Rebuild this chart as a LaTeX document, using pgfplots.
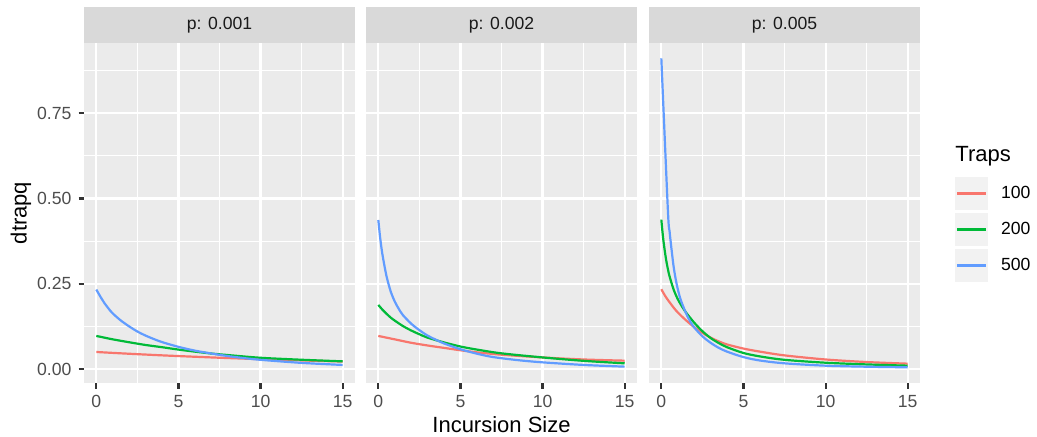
\documentclass[border=0pt]{standalone}
\usepackage{pgfplots}
\pgfplotsset{compat=1.18}
\usepackage{fontspec}
\setmainfont{Liberation Sans}
\definecolor{c100}{HTML}{F8766D}
\definecolor{c200}{HTML}{00BA38}
\definecolor{c500}{HTML}{619CFF}
\definecolor{grey92}{HTML}{EBEBEB}
\definecolor{grey85}{HTML}{D9D9D9}
\definecolor{grey95}{HTML}{F2F2F2}
\definecolor{grey30}{HTML}{4D4D4D}
\definecolor{grey20}{HTML}{333333}
\definecolor{grey10}{HTML}{1A1A1A}

\newcommand{\stripfont}{\fontsize{8.8}{10}\selectfont}
\pgfplotsset{
 facet/.style={
  scale only axis, width=135.5pt, height=170pt,
  anchor=south west,
  xmin=-0.75, xmax=15.75, ymin=-0.041, ymax=0.956,
  axis background/.style={fill=grey92},
  axis line style={draw=none},
  xtick={0,5,10,15}, xticklabels={0,5,10,15},
  minor xtick={2.5,7.5,12.5},
  ytick={0,0.25,0.5,0.75}, minor ytick={0.125,0.375,0.625,0.875},
  grid=both,
  major grid style={white, line width=1.07pt},
  minor grid style={white, line width=0.53pt},
  tick align=outside, xtick pos=bottom, ytick pos=left,
  major tick length=2.75pt, minor tick length=0pt,
  tick style={grey20, line width=1.07pt},
  ticklabel style={font=\fontsize{8.8}{10}\selectfont, text=grey30},
  every axis title/.style={at={(0.5,1)}, anchor=south, fill=grey85, minimum width=135.5pt,
     minimum height=18pt, inner sep=0pt, outer sep=0pt,
     font=\stripfont, text=grey10},
  every axis plot/.append style={line width=1.1pt, mark=none, smooth, tension=0.5},
 },
}

\begin{document}
\begin{tikzpicture}
\useasboundingbox (0pt,0pt) rectangle (518.5pt,218pt);

% Panel 1
\begin{axis}[facet, at={(42pt,26.5pt)}, title={p: 0.001},
  yticklabels={0.00,0.25,0.50,0.75},
  ylabel={dtrapq},
  every axis y label/.style={at={(axis description cs:-0.2325,0.5)}, rotate=90, anchor=center,
     font=\fontsize{11}{13}\selectfont, text=black}]
\addplot[c100] coordinates {(0,0.050)(1,0.0473)(2,0.0448)(3,0.0424)(4,0.0401)(5,0.038)(6,0.036)(7.5,0.0331)(10,0.0288)(12.5,0.0252)(15,0.0219)};
\addplot[c200] coordinates {(0,0.097)(0.5,0.092)(1,0.087)(2,0.0785)(3,0.0705)(4,0.064)(5,0.057)(6,0.051)(7,0.0455)(8,0.041)(10,0.033)(12.5,0.0272)(15,0.0225)};
\addplot[c500] coordinates {(0,0.233)(0.25,0.212)(0.5,0.193)(0.75,0.177)(1,0.163)(1.5,0.142)(2,0.125)(2.5,0.110)(3,0.098)(3.5,0.088)(4,0.079)(5,0.065)(6,0.054)(7,0.0455)(8,0.038)(9,0.032)(10,0.027)(12.5,0.018)(15,0.012)};
\end{axis}

% Panel 2
\begin{axis}[facet, at={(183pt,26.5pt)}, title={p: 0.002},
  yticklabels={}, ytick style={draw=none},
  xlabel={Incursion Size},
  every axis x label/.style={at={(axis description cs:0.5,-0.1235)}, anchor=center,
     font=\fontsize{11}{13}\selectfont, text=black}]
\addplot[c100] coordinates {(0,0.097)(1,0.087)(2,0.077)(3,0.069)(4,0.062)(5,0.055)(6,0.049)(7.5,0.042)(10,0.034)(12.5,0.028)(15,0.0245)};
\addplot[c200] coordinates {(0,0.188)(0.25,0.174)(0.5,0.162)(0.75,0.151)(1,0.142)(1.5,0.126)(2,0.113)(2.5,0.102)(3,0.092)(4,0.078)(5,0.066)(6,0.057)(7.5,0.046)(10,0.034)(12.5,0.024)(15,0.0167)};
\addplot[c500] coordinates {(0,0.437)(0.1,0.39)(0.2,0.352)(0.3,0.322)(0.5,0.272)(0.75,0.228)(1,0.198)(1.25,0.176)(1.5,0.158)(2,0.133)(2.5,0.114)(3,0.098)(3.5,0.086)(4,0.075)(5,0.058)(6,0.045)(7,0.035)(8.5,0.026)(10,0.0196)(12.5,0.012)(15,0.007)};
\end{axis}

% Panel 3
\begin{axis}[facet, at={(324.5pt,26.5pt)}, title={p: 0.005},
  yticklabels={}, ytick style={draw=none},
  legend style={at={(axis description cs:1.1292,0.6065)}, anchor=north west,
     draw=none, fill=none, inner sep=0pt, outer sep=0pt, row sep=1.3pt, column sep=6.3pt,
     font=\fontsize{8.8}{10}\selectfont, nodes={inner sep=0pt, anchor=west}},
  legend cell align=left,
  legend image code/.code={\fill[grey95, draw=none] (0pt,-8.35pt) rectangle (16.7pt,8.35pt);
     \draw[#1, line width=1.07pt] (1pt,0pt) -- (15.7pt,0pt);}]
\addplot[c100] coordinates {(0,0.234)(0.25,0.213)(0.5,0.196)(0.75,0.180)(1,0.166)(1.5,0.143)(2,0.123)(2.5,0.106)(3,0.092)(3.5,0.081)(4,0.072)(5,0.060)(6,0.051)(7.5,0.040)(10,0.028)(12.5,0.0205)(15,0.0157)};
\addlegendentry{100}
\addplot[c200] coordinates {(0,0.438)(0.1,0.388)(0.2,0.350)(0.3,0.318)(0.4,0.293)(0.5,0.272)(0.75,0.233)(1,0.205)(1.25,0.184)(1.5,0.166)(2,0.136)(2.5,0.111)(3,0.091)(3.5,0.076)(4,0.064)(5,0.047)(6,0.037)(7.5,0.027)(10,0.0185)(12.5,0.0135)(15,0.0098)};
\addlegendentry{200}
\addplot[c500] coordinates {(0,0.911)(0.4,0.465)(0.5,0.405)(0.6,0.36)(0.75,0.30)(0.9,0.257)(1.05,0.225)(1.2,0.200)(1.5,0.164)(1.75,0.140)(2,0.122)(2.5,0.096)(3,0.077)(3.5,0.062)(4,0.051)(5,0.035)(6,0.025)(7.5,0.0167)(10,0.0098)(12.5,0.0068)(15,0.005)};
\addlegendentry{500}
\end{axis}

\node[anchor=base west, inner sep=0pt, font=\fontsize{11}{13}\selectfont] at (477.5pt,137.2pt) {Traps};
\end{tikzpicture}
\end{document}
